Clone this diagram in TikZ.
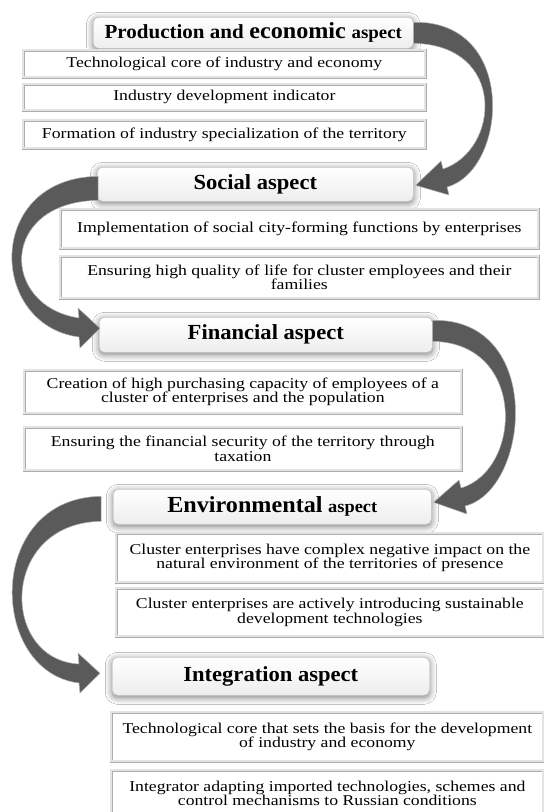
\documentclass[tikz,border=0pt]{standalone}
\usepackage{fontspec}
\setmainfont{Liberation Serif}[FakeStretch=1.18]
\newfontfamily\hdfont{Liberation Serif}[FakeStretch=1.05]
\usetikzlibrary{calc,shadows.blur}
\definecolor{arrgray}{RGB}{90,90,90}
\tikzset{
  hdr/.style={rectangle, rounded corners=5pt, draw=gray!45, line width=0.6pt,
    top color=white, bottom color=gray!14, inner sep=0pt, anchor=north west,
    font=\hdfont\bfseries\fontsize{21.5}{24}\selectfont,
    blur shadow={shadow xshift=0pt, shadow yshift=-2pt, shadow blur radius=7pt, shadow opacity=55}},
  sub/.style={rectangle, draw=gray!65, double=gray!22, double distance=2pt,
    line width=0.7pt, fill=white, inner sep=0pt, anchor=north west, align=center,
    font=\fontsize{15}{14.5}\selectfont,
    append after command={[draw=gray!80!black, line width=1.2pt]
      ([xshift=-2.2pt,yshift=-2pt]\tikzlastnode.north east) -- ([xshift=-2.2pt,yshift=2pt]\tikzlastnode.south east)
      ([xshift=2.2pt,yshift=-2pt]\tikzlastnode.north west) -- ([xshift=2.2pt,yshift=2pt]\tikzlastnode.south west)}},
  arr/.style={fill=arrgray, draw=gray!60, line width=0.5pt, line join=round},
}
\begin{document}
\begin{tikzpicture}[x=1pt,y=-1pt]
\useasboundingbox[fill=white] (0,0) rectangle (544,812);

% headers
\node[hdr, minimum width=320pt, minimum height=31pt] (h1) at (93,17)
  {{\fontsize{20}{24}\selectfont Production and} {\fontsize{23}{24}\selectfont economic} {\fontsize{18}{24}\selectfont aspect}};
\node[hdr, minimum width=316pt, minimum height=34pt] (h2) at (97,167) {Social aspect};
\node[hdr, minimum width=333pt, minimum height=35pt] (h3) at (99,317) {Financial aspect};
\node[hdr, minimum width=318pt, minimum height=35pt] (h4) at (113,489)
  {{\fontsize{23}{24}\selectfont Environmental} {\fontsize{17.5}{24}\selectfont aspect}};
\node[hdr, minimum width=317pt, minimum height=38pt] (h5) at (112,657) {Integration aspect};

% sub boxes
\node[sub, minimum width=402pt, minimum height=27pt] (p1) at (23,50) {Technological core of industry and economy};
\node[sub, minimum width=402pt, minimum height=26pt] (p2) at (23,84) {Industry development indicator};
\node[sub, minimum width=402pt, minimum height=28pt] (p3) at (23,120) {Formation of industry specialization of the territory};

\node[sub, minimum width=478pt, minimum height=39pt] (s1) at (60,209) {Implementation of social city-forming functions by enterprises};
\node[sub, minimum width=478pt, minimum height=42pt] (s2) at (60,256) {Ensuring high quality of life for cluster employees and their\\families};

\node[sub, minimum width=437pt, minimum height=43pt] (f1) at (24,370) {Creation of high purchasing capacity of employees of a\\cluster of enterprises and the population};
\node[sub, minimum width=437pt, minimum height=43pt] (f2) at (24,427) {Ensuring the financial security of the territory through\\taxation};

\node[sub, minimum width=427pt, minimum height=49pt] (e1) at (116,533) {Cluster enterprises have complex negative impact on the\\natural environment of the territories of presence};
\node[sub, minimum width=427pt, minimum height=48pt] (e2) at (116,588) {Cluster enterprises are actively introducing sustainable\\development technologies};

\node[sub, minimum width=432pt, minimum height=49pt] (i1) at (111,712) {Technological core that sets the basis for the development\\of industry and economy};
\node[sub, minimum width=432pt, minimum height=46pt] (i2) at (111,770) {Integrator adapting imported technologies, schemes and\\control mechanisms to Russian conditions};

% curved arrows
\path[arr] ($(h1.east)+(0,-10.5)$) .. controls (518,20) and (508,170) .. (447,187)
  -- (449,195) -- ($(h2.east)+(2,1)$) -- (441,161) -- (443,169)
  .. controls (500,150) and (507,45) .. ($(h1.east)+(0,10.5)$) -- cycle;

\path[arr] ($(h2.west)+(1,-8)$) .. controls (-15,178) and (-12,325) .. (79,337)
  -- (80,348) -- ($(h3.west)+(1,-6.5)$) -- (78,308) -- (79,318)
  .. controls (0,306) and (-1,202) .. ($(h2.west)+(1,16)$) -- cycle;

\path[arr] ($(h3.east)+(0,-14.5)$) .. controls (545,318) and (530,490) .. (465,506)
  -- (467,514) -- ($(h4.east)+(2,-4.5)$) -- (459,480) -- (461,488)
  .. controls (522,470) and (527,343) .. ($(h3.east)+(0,6.5)$) -- cycle;

\path[arr] ($(h4.west)+(-12,-10.5)$) .. controls (-15,498) and (-12,672) .. (79,683)
  -- (80,693) -- ($(h5.west)+(-12,-3)$) -- (78,653) -- (79,664)
  .. controls (0,660) and (-1,523) .. ($(h4.west)+(-12,14.5)$) -- cycle;
\end{tikzpicture}
\end{document}
